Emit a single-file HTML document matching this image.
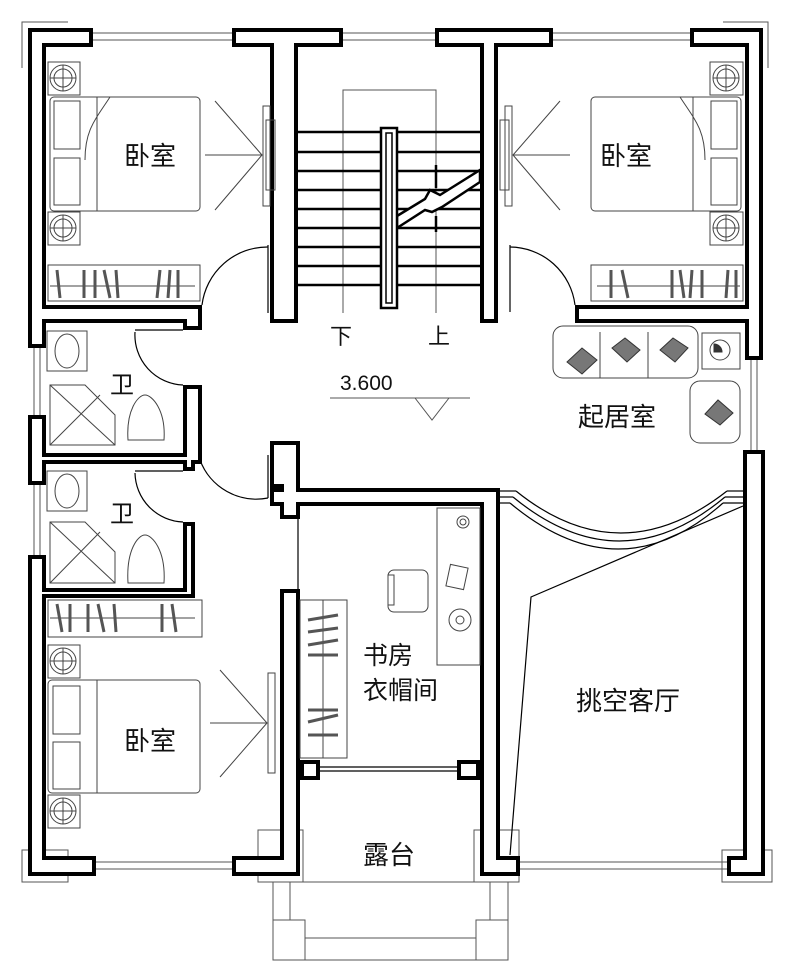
<!DOCTYPE html>
<html><head><meta charset="utf-8"><style>
html,body{margin:0;padding:0;background:#fff}
svg{display:block}
text{font-family:"Liberation Sans","Noto Sans CJK SC",sans-serif;fill:#111}
</style></head><body>
<svg width="789" height="973" viewBox="0 0 789 973" xmlns="http://www.w3.org/2000/svg">
<rect width="789" height="973" fill="#fff"/>
<g fill="none" stroke="#555" stroke-width="1">
<polyline points="22,68 22,22 68,22"/>
<polyline points="723,22 768,22 768,68"/>
<line x1="93" y1="33" x2="232" y2="33"/><line x1="93" y1="40" x2="232" y2="40"/>
<line x1="343" y1="33" x2="435" y2="33"/><line x1="343" y1="40" x2="435" y2="40"/>
<line x1="553" y1="33" x2="690" y2="33"/><line x1="553" y1="40" x2="690" y2="40"/>
<line x1="34" y1="347" x2="34" y2="415"/><line x1="40" y1="347" x2="40" y2="415"/>
<line x1="34" y1="485" x2="34" y2="555"/><line x1="40" y1="485" x2="40" y2="555"/>
<line x1="751" y1="360" x2="751" y2="450"/><line x1="757" y1="360" x2="757" y2="450"/>
<line x1="96" y1="862" x2="232" y2="862"/><line x1="96" y1="869" x2="232" y2="869"/>
<line x1="520" y1="862" x2="727" y2="862"/><line x1="520" y1="869" x2="727" y2="869"/>
<rect x="22" y="850" width="46" height="32"/><rect x="722" y="850" width="50" height="32"/>
<rect x="258" y="830" width="45" height="52"/><rect x="474" y="830" width="45" height="52"/>
<rect x="273" y="882" width="235" height="78"/>
<line x1="290" y1="882" x2="290" y2="920"/><line x1="490" y1="882" x2="490" y2="920"/>
<rect x="273" y="920" width="32" height="40"/><rect x="476" y="920" width="32" height="40"/>
<line x1="305" y1="938" x2="476" y2="938"/>
<polyline points="343,313 343,90 436,90 436,313"/>
<line x1="330" y1="398" x2="470" y2="398"/>
<polyline points="415,398 432,420 449,398" />
</g>
<g fill="#000">
<rect x="28" y="28" width="65" height="19"/>
<rect x="28" y="28" width="18" height="320"/>
<rect x="28" y="415" width="18" height="70"/>
<rect x="28" y="555" width="18" height="321"/>
<rect x="232" y="28" width="111" height="19"/>
<rect x="270" y="28" width="28" height="295"/>
<rect x="435" y="28" width="118" height="19"/>
<rect x="480" y="28" width="18" height="295"/>
<rect x="690" y="28" width="73" height="19"/>
<rect x="745" y="28" width="18" height="332"/>
<rect x="743" y="450" width="22" height="426"/>
<rect x="28" y="305" width="174" height="18"/>
<rect x="183" y="305" width="19" height="25"/>
<rect x="183" y="385" width="19" height="77"/>
<rect x="28" y="453" width="174" height="11"/>
<rect x="183" y="453" width="12" height="18"/>
<rect x="183" y="522" width="12" height="76"/>
<rect x="28" y="588" width="167" height="10"/>
<rect x="575" y="305" width="188" height="18"/>
<rect x="270" y="441" width="30" height="47"/>
<rect x="280" y="459" width="20" height="60"/>
<rect x="270" y="488" width="230" height="18"/>
<rect x="280" y="589" width="20" height="287"/>
<rect x="480" y="488" width="20" height="388"/>
<rect x="300" y="760" width="20" height="20"/>
<rect x="457" y="760" width="23" height="20"/>
<rect x="28" y="856" width="68" height="20"/>
<rect x="232" y="856" width="68" height="20"/>
<rect x="480" y="856" width="40" height="20"/>
<rect x="727" y="856" width="38" height="20"/>
</g>
<g fill="#fff">
<rect x="32" y="32" width="57" height="11"/>
<rect x="32" y="32" width="10" height="312"/>
<rect x="32" y="419" width="10" height="62"/>
<rect x="32" y="559" width="10" height="313"/>
<rect x="236" y="32" width="103" height="11"/>
<rect x="274" y="32" width="20" height="287"/>
<rect x="439" y="32" width="110" height="11"/>
<rect x="484" y="32" width="10" height="287"/>
<rect x="694" y="32" width="65" height="11"/>
<rect x="749" y="32" width="10" height="324"/>
<rect x="747" y="454" width="14" height="418"/>
<rect x="32" y="309" width="166" height="10"/>
<rect x="187" y="309" width="11" height="17"/>
<rect x="187" y="389" width="11" height="69"/>
<rect x="32" y="457" width="166" height="3"/>
<rect x="187" y="457" width="4" height="10"/>
<rect x="187" y="526" width="4" height="68"/>
<rect x="32" y="592" width="159" height="2"/>
<rect x="579" y="309" width="180" height="10"/>
<rect x="274" y="445" width="22" height="39"/>
<rect x="284" y="463" width="12" height="52"/>
<rect x="274" y="492" width="222" height="10"/>
<rect x="284" y="593" width="12" height="279"/>
<rect x="484" y="492" width="12" height="380"/>
<rect x="304" y="764" width="12" height="12"/>
<rect x="461" y="764" width="15" height="12"/>
<rect x="32" y="860" width="60" height="12"/>
<rect x="236" y="860" width="60" height="12"/>
<rect x="484" y="860" width="32" height="12"/>
<rect x="731" y="860" width="30" height="12"/>
</g>
<g stroke="#000" stroke-width="2.5">
<line x1="298" y1="132" x2="380" y2="132"/><line x1="298" y1="152" x2="380" y2="152"/>
<line x1="298" y1="171" x2="380" y2="171"/><line x1="298" y1="190" x2="380" y2="190"/>
<line x1="298" y1="209" x2="380" y2="209"/><line x1="298" y1="228" x2="380" y2="228"/>
<line x1="298" y1="247" x2="380" y2="247"/><line x1="298" y1="266" x2="380" y2="266"/>
<line x1="298" y1="285" x2="380" y2="285"/>
<line x1="398" y1="132" x2="480" y2="132"/><line x1="398" y1="152" x2="480" y2="152"/>
<line x1="398" y1="171" x2="480" y2="171"/><line x1="398" y1="190" x2="480" y2="190"/>
<line x1="398" y1="209" x2="480" y2="209"/>
<line x1="398" y1="228" x2="480" y2="228"/><line x1="398" y1="247" x2="480" y2="247"/>
<line x1="398" y1="266" x2="480" y2="266"/><line x1="398" y1="285" x2="480" y2="285"/>
</g>
<polygon points="397,216 425,199 430,190 440,195 480,170 480,182 442,207 432,212 425,210 397,228" fill="#fff" stroke="#000" stroke-width="2.5"/>
<rect x="381" y="128" width="16" height="180" fill="#fff" stroke="#000" stroke-width="2.5"/>
<rect x="386" y="133" width="6" height="170" fill="none" stroke="#000" stroke-width="1.5"/>
<g stroke="#000" stroke-width="2.5" fill="none">
<line x1="436" y1="165" x2="436" y2="188"/><line x1="436" y1="216" x2="436" y2="232"/>
</g>
<g fill="none" stroke="#000" stroke-width="1.2">
<line x1="268" y1="245" x2="268" y2="313"/><path d="M268,247 A66,66 0 0 0 202,305"/>
<line x1="510" y1="245" x2="510" y2="312"/><path d="M510,247 A66,66 0 0 1 575,305"/>
<line x1="135" y1="330" x2="183" y2="330"/><path d="M135,332 A50,50 0 0 0 183,385"/>
<line x1="135" y1="471" x2="183" y2="471"/><path d="M135,473 A50,50 0 0 0 183,522"/>
<line x1="268" y1="455" x2="268" y2="498"/><path d="M268,498 A60,60 0 0 1 200,460"/>
<line x1="298" y1="519" x2="298" y2="589"/>
<line x1="320" y1="767" x2="457" y2="767"/><line x1="320" y1="771" x2="457" y2="771"/>
<polyline points="500,491 516,491"/><polyline points="500,497 513,497"/><polyline points="500,503 510,503"/>
<path d="M516,491 Q620,575 727,491"/><path d="M513,497 Q620,585 725,497"/><path d="M510,503 Q620,595 723,503"/>
<line x1="727" y1="491" x2="743" y2="491"/><line x1="725" y1="497" x2="743" y2="497"/><line x1="723" y1="503" x2="743" y2="503"/>
<polyline points="743,506 531,597 510,855"/>
</g>
<g fill="none" stroke="#444" stroke-width="1">
<rect x="48" y="62" width="32" height="33"/><circle cx="63" cy="78" r="13"/><circle cx="63" cy="78" r="9"/><line x1="50" y1="78" x2="76" y2="78"/><line x1="63" y1="65" x2="63" y2="91"/>
<rect x="48" y="212" width="32" height="33"/><circle cx="63" cy="228" r="13"/><circle cx="63" cy="228" r="9"/><line x1="50" y1="228" x2="76" y2="228"/><line x1="63" y1="215" x2="63" y2="241"/>
<rect x="50" y="97" width="150" height="114" rx="4"/><line x1="97" y1="97" x2="97" y2="211"/>
<rect x="54" y="101" width="26" height="48"/><rect x="54" y="158" width="26" height="47"/>
<path d="M110,97 C95,120 85,130 85,160"/>
<rect x="263" y="106" width="7" height="100"/><rect x="266" y="120" width="9" height="70"/>
<polyline points="215,101 262,155 215,210"/><line x1="205" y1="155" x2="262" y2="155"/>
<rect x="48" y="265" width="152" height="36"/><line x1="50" y1="286" x2="195" y2="286"/>
<rect x="710" y="62" width="33" height="33"/><circle cx="726" cy="78" r="13"/><circle cx="726" cy="78" r="9"/><line x1="713" y1="78" x2="739" y2="78"/><line x1="726" y1="65" x2="726" y2="91"/>
<rect x="710" y="212" width="33" height="33"/><circle cx="726" cy="228" r="13"/><circle cx="726" cy="228" r="9"/><line x1="713" y1="228" x2="739" y2="228"/><line x1="726" y1="215" x2="726" y2="241"/>
<rect x="591" y="97" width="150" height="114" rx="4"/><line x1="693" y1="97" x2="693" y2="211"/>
<rect x="711" y="101" width="26" height="48"/><rect x="711" y="158" width="26" height="47"/>
<path d="M680,97 C695,120 705,130 705,160"/>
<rect x="505" y="106" width="7" height="100"/><rect x="500" y="120" width="9" height="70"/>
<polyline points="560,101 513,155 560,210"/><line x1="570" y1="155" x2="513" y2="155"/>
<rect x="591" y="265" width="152" height="36"/><line x1="597" y1="286" x2="740" y2="286"/>
<rect x="47" y="331" width="40" height="40"/><ellipse cx="67" cy="351" rx="12" ry="17"/>
<polygon points="50,385 85,385 115,415 115,445 50,445"/><line x1="50" y1="385" x2="115" y2="445"/><line x1="50" y1="445" x2="100" y2="395"/>
<path d="M128,440 C126,410 138,395 145,395 C152,395 166,410 164,440 Z"/>
<rect x="47" y="471" width="40" height="40"/><ellipse cx="67" cy="491" rx="12" ry="17"/>
<polygon points="50,522 85,522 115,552 115,583 50,583"/><line x1="50" y1="522" x2="115" y2="583"/><line x1="50" y1="583" x2="100" y2="532"/>
<path d="M128,583 C126,550 138,535 145,535 C152,535 166,550 164,583 Z"/>
<rect x="48" y="600" width="154" height="37"/><line x1="50" y1="618" x2="195" y2="618"/>
<rect x="48" y="645" width="32" height="33"/><circle cx="63" cy="661" r="13"/><circle cx="63" cy="661" r="9"/><line x1="50" y1="661" x2="76" y2="661"/><line x1="63" y1="648" x2="63" y2="674"/>
<rect x="48" y="795" width="32" height="33"/><circle cx="63" cy="811" r="13"/><circle cx="63" cy="811" r="9"/><line x1="50" y1="811" x2="76" y2="811"/><line x1="63" y1="798" x2="63" y2="824"/>
<rect x="48" y="680" width="152" height="113" rx="4"/><line x1="97" y1="680" x2="97" y2="793"/>
<rect x="53" y="686" width="27" height="48"/><rect x="53" y="742" width="27" height="47"/>
<rect x="268" y="673" width="7" height="100"/>
<polyline points="220,670 267,723 220,777"/><line x1="210" y1="723" x2="267" y2="723"/>
<rect x="437" y="508" width="43" height="157"/><circle cx="463" cy="522" r="6"/><circle cx="463" cy="522" r="3"/>
<circle cx="460" cy="620" r="11"/><circle cx="460" cy="620" r="4"/>
<rect x="448" y="566" width="18" height="22" transform="rotate(12 457 577)"/>
<rect x="388" y="570" width="40" height="42" rx="6"/><rect x="388" y="575" width="6" height="30"/>
<rect x="300" y="600" width="47" height="158"/><line x1="323" y1="600" x2="323" y2="758"/>
<rect x="553" y="326" width="145" height="52" rx="10"/><line x1="600" y1="332" x2="600" y2="378"/><line x1="648" y1="332" x2="648" y2="378"/>
<rect x="702" y="333" width="38" height="36"/><circle cx="720" cy="350" r="10"/>
<rect x="690" y="381" width="50" height="62" rx="10"/>
</g>
<g fill="#777" stroke="#333" stroke-width="1">
<polygon points="567,362 582,348 597,360 582,374"/>
<polygon points="612,348 625,338 640,350 627,362"/>
<polygon points="660,350 673,338 688,348 675,362"/>
<polygon points="705,414 718,400 733,413 720,425"/>
<path d="M714,344 A8,8 0 0 1 722,352 L714,352 Z" fill="#333"/>
</g>
<g fill="none" stroke="#555" stroke-width="3">
<line x1="57" y1="270" x2="60" y2="298"/><line x1="84" y1="270" x2="84" y2="298"/><line x1="95" y1="270" x2="95" y2="298"/><line x1="104" y1="270" x2="110" y2="298"/><line x1="116" y1="270" x2="118" y2="298"/><line x1="160" y1="270" x2="157" y2="298"/><line x1="170" y1="270" x2="168" y2="298"/><line x1="178" y1="270" x2="178" y2="298"/>
<line x1="611" y1="270" x2="611" y2="298"/><line x1="622" y1="270" x2="628" y2="298"/><line x1="672" y1="270" x2="672" y2="298"/><line x1="680" y1="270" x2="684" y2="298"/><line x1="692" y1="270" x2="690" y2="298"/><line x1="702" y1="270" x2="702" y2="298"/><line x1="728" y1="270" x2="726" y2="298"/><line x1="736" y1="270" x2="736" y2="298"/>
<line x1="57" y1="604" x2="62" y2="632"/><line x1="70" y1="604" x2="70" y2="632"/><line x1="88" y1="604" x2="88" y2="632"/><line x1="98" y1="604" x2="104" y2="632"/><line x1="114" y1="604" x2="116" y2="632"/><line x1="162" y1="604" x2="162" y2="632"/><line x1="172" y1="604" x2="176" y2="632"/>
<line x1="308" y1="620" x2="338" y2="615"/><line x1="308" y1="632" x2="338" y2="628"/><line x1="308" y1="645" x2="338" y2="640"/><line x1="308" y1="655" x2="338" y2="655"/>
<line x1="308" y1="710" x2="338" y2="710"/><line x1="308" y1="722" x2="338" y2="715"/><line x1="308" y1="735" x2="338" y2="735"/>
</g>
<g font-size="26">
<text x="124" y="165">卧室</text>
<text x="600" y="165">卧室</text>
<text x="110" y="393" font-size="24">卫</text>
<text x="110" y="522" font-size="24">卫</text>
<text x="578" y="426">起居室</text>
<text x="363" y="664" font-size="25">书房</text>
<text x="363" y="699" font-size="25">衣帽间</text>
<text x="124" y="750">卧室</text>
<text x="576" y="710">挑空客厅</text>
<text x="363" y="864">露台</text>
<text x="330" y="344" font-size="22">下</text>
<text x="428" y="344" font-size="22">上</text>
</g>
<text x="340" y="390" font-size="21" fill="#222" style="font-family:'Liberation Sans',sans-serif">3.600</text>
</svg>
</body></html>
